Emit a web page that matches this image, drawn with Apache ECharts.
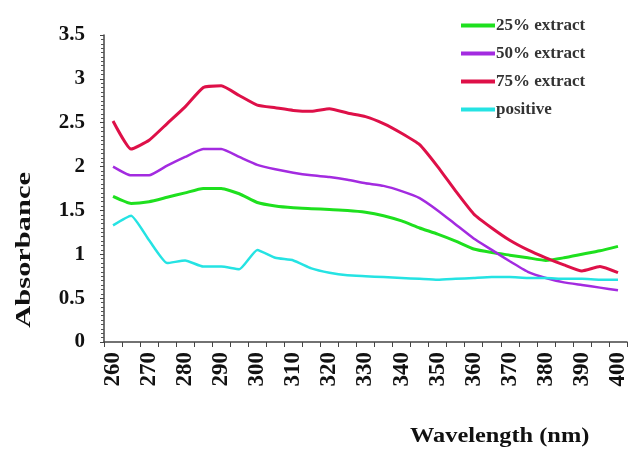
<!DOCTYPE html>
<html>
<head>
<meta charset="utf-8">
<script src="https://cdn.jsdelivr.net/npm/echarts@6/dist/echarts.min.js"></script>
<style>
  html, body { margin: 0; padding: 0; background: #fff; }
  #chart { width: 630px; height: 450px; }
</style>
</head>
<body>
<div id="chart"></div>
<script>
// wavelength (nm), one point every 5 nm
const wavelengths = ['260', '265', '270', '275', '280', '285', '290', '295', '300', '305',
  '310', '315', '320', '325', '330', '335', '340', '345', '350', '355',
  '360', '365', '370', '375', '380', '385', '390', '395', '400'];

const extract25 = [1.66, 1.58, 1.60, 1.65, 1.70, 1.75, 1.75, 1.69, 1.59, 1.55,
  1.53, 1.52, 1.51, 1.50, 1.48, 1.44, 1.38, 1.30, 1.23, 1.15,
  1.06, 1.02, 0.99, 0.96, 0.93, 0.96, 1.00, 1.04, 1.09];

const extract50 = [2.00, 1.90, 1.90, 2.01, 2.11, 2.20, 2.20, 2.11, 2.02, 1.97,
  1.93, 1.90, 1.88, 1.85, 1.81, 1.78, 1.72, 1.64, 1.50, 1.34,
  1.18, 1.05, 0.92, 0.80, 0.73, 0.68, 0.65, 0.62, 0.59];

const extract75 = [2.52, 2.20, 2.30, 2.49, 2.68, 2.90, 2.92, 2.81, 2.70, 2.67,
  2.64, 2.63, 2.66, 2.61, 2.57, 2.49, 2.38, 2.25, 2.00, 1.72,
  1.46, 1.30, 1.16, 1.05, 0.96, 0.88, 0.81, 0.86, 0.79];

const positive = [1.33, 1.44, 1.16, 0.90, 0.93, 0.86, 0.86, 0.83, 1.05, 0.96,
  0.93, 0.84, 0.79, 0.76, 0.75, 0.74, 0.73, 0.72, 0.71, 0.72,
  0.73, 0.74, 0.74, 0.73, 0.73, 0.72, 0.72, 0.71, 0.71];

const yTicks = { min: 0, max: 3.5, interval: 0.5 };

const serif = '"Liberation Serif", "DejaVu Serif", serif';

function line(name, data, color, width) {
  return {
    name: name,
    type: 'line',
    data: data,
    showSymbol: false,
    smooth: 0.15,
    lineStyle: { color: color, width: width },
    itemStyle: { color: color }
  };
}

const chart = echarts.init(document.getElementById('chart'));
chart.setOption({
  animation: false,
  backgroundColor: '#fff',
  grid: { left: 104, right: 3, top: 35, bottom: 108, containLabel: false },
  legend: {
    orient: 'vertical',
    left: 456,
    top: 12,
    itemGap: 11,
    itemWidth: 34,
    itemHeight: 4,
    icon: 'rect',
    textStyle: { fontFamily: serif, fontWeight: 'bold', fontSize: 17, color: '#333', padding: [0, 0, 0, -4] },
    data: ['25% extract', '50% extract', '75% extract', 'positive']
  },
  xAxis: {
    type: 'category',
    data: wavelengths,
    boundaryGap: true,
    axisLine: { lineStyle: { color: '#444', width: 1.5 } },
    axisTick: { show: true, interval: 0, length: 5, lineStyle: { color: '#444' } },
    axisLabel: {
      interval: 1,
      rotate: 90,
      margin: 10,
      fontFamily: serif,
      fontWeight: 'bold',
      fontSize: 23,
      color: '#111'
    },
    splitLine: { show: false }
  },
  yAxis: {
    type: 'value',
    min: yTicks.min,
    max: yTicks.max,
    interval: yTicks.interval,
    axisLine: { show: true, lineStyle: { color: '#444', width: 1.5 } },
    axisTick: { show: true, length: 4, lineStyle: { color: '#444' } },
    minorTick: { show: true, splitNumber: 10, length: 3, lineStyle: { color: '#555' } },
    axisLabel: {
      margin: 19,
      fontFamily: serif,
      fontWeight: 'bold',
      fontSize: 21,
      color: '#111'
    },
    splitLine: { show: false }
  },
  graphic: [
    {
      type: 'text',
      left: 14,
      top: 172,
      rotation: Math.PI / 2,
      scaleX: 1.45,
      style: {
        text: 'Absorbance',
        fontFamily: serif,
        fontWeight: 'bold',
        fontSize: 21,
        fill: '#111'
      }
    },
    {
      type: 'text',
      left: 410,
      top: 426,
      scaleX: 1.16,
      style: {
        text: 'Wavelength (nm)',
        fontFamily: serif,
        fontWeight: 'bold',
        fontSize: 21,
        fill: '#111'
      }
    }
  ],
  series: [
    line('25% extract', extract25, '#1ee01e', 3),
    line('50% extract', extract50, '#a32be0', 2.5),
    line('75% extract', extract75, '#de1048', 3),
    line('positive', positive, '#25e3e3', 2.5)
  ]
});
</script>
</body>
</html>
